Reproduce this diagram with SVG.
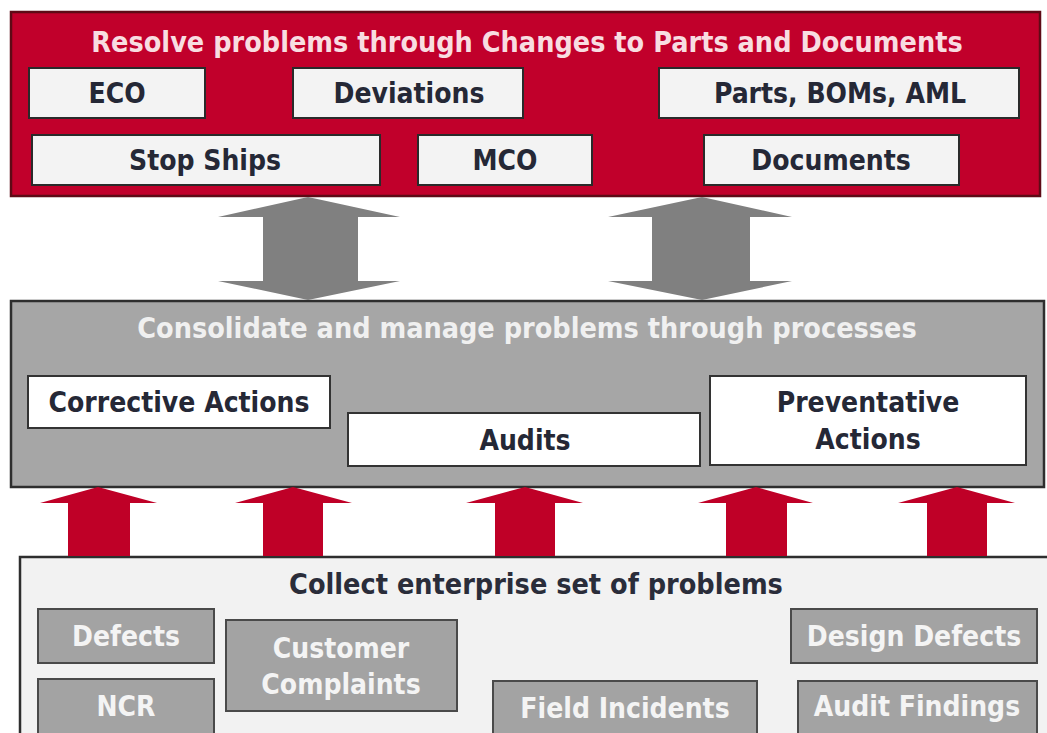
<svg xmlns="http://www.w3.org/2000/svg" width="1047" height="733" viewBox="0 0 1047 733">
  <style>
    text { font-family: "DejaVu Sans Condensed", "DejaVu Sans", "Liberation Sans", sans-serif; font-stretch: condensed; font-weight: bold; font-size: 28px; text-anchor: middle; }
    .tier-red { fill: #c1002b; stroke: #5e0a16; stroke-width: 2.5; }
    .tier-grey { fill: #a6a6a6; stroke: #2e2e2e; stroke-width: 2.5; }
    .tier-light { fill: #f2f2f2; stroke: #2e2e2e; stroke-width: 2.5; }
    .box-light { fill: #f3f3f3; stroke: #2a2a2a; stroke-width: 2; }
    .box-white { fill: #ffffff; stroke: #333333; stroke-width: 2; }
    .box-grey { fill: #a3a3a3; stroke: #4a4a4a; stroke-width: 2; }
    .dark { fill: #252836; }
    .pale { fill: #f4f4f4; }
    .title-red { fill: #f8dde1; font-size: 28.5px; }
    .title-grey { fill: #f0f0f0; font-size: 28.5px; }
    .title-light { fill: #2a2d3a; font-size: 28.5px; }
    .arrow-grey { fill: #808080; }
    .arrow-red { fill: #bf0027; }
  </style>

  <!-- Tier 1: changes to parts and documents -->
  <g id="tier-resolve">
    <rect class="tier-red" x="11" y="12" width="1029" height="184"/>
    <text class="title-red" x="527" y="52">Resolve problems through Changes to Parts and Documents</text>
  </g>
  <g id="node-eco">
    <rect class="box-light" x="29" y="68" width="176" height="50"/>
    <text class="dark" x="117" y="103">ECO</text>
  </g>
  <g id="node-deviations">
    <rect class="box-light" x="293" y="68" width="230" height="50"/>
    <text class="dark" x="409" y="103">Deviations</text>
  </g>
  <g id="node-parts">
    <rect class="box-light" x="659" y="68" width="360" height="50"/>
    <text class="dark" x="840" y="103">Parts, BOMs, AML</text>
  </g>
  <g id="node-stopships">
    <rect class="box-light" x="32" y="135" width="348" height="50"/>
    <text class="dark" x="205" y="170">Stop Ships</text>
  </g>
  <g id="node-mco">
    <rect class="box-light" x="418" y="135" width="174" height="50"/>
    <text class="dark" x="505" y="170">MCO</text>
  </g>
  <g id="node-documents">
    <rect class="box-light" x="704" y="135" width="255" height="50"/>
    <text class="dark" x="831" y="170">Documents</text>
  </g>

  <!-- Tier 2: consolidate and manage -->
  <g id="tier-consolidate">
    <rect class="tier-grey" x="11" y="301" width="1033" height="186"/>
    <text class="title-grey" x="527" y="338">Consolidate and manage problems through processes</text>
  </g>
  <g id="node-corrective">
    <rect class="box-white" x="28" y="376" width="302" height="52"/>
    <text class="dark" x="179" y="412">Corrective Actions</text>
  </g>
  <g id="node-audits">
    <rect class="box-white" x="348" y="413" width="352" height="53"/>
    <text class="dark" x="525" y="450">Audits</text>
  </g>
  <g id="node-preventative">
    <rect class="box-white" x="710" y="376" width="316" height="89"/>
    <text class="dark" x="868" y="412">Preventative</text>
    <text class="dark" x="868" y="449">Actions</text>
  </g>

  <!-- Tier 3: collect problems -->
  <g id="tier-collect">
    <rect class="tier-light" x="20" y="557" width="1040" height="190"/>
    <text class="title-light" x="536" y="594">Collect enterprise set of problems</text>
  </g>
  <g id="node-defects">
    <rect class="box-grey" x="38" y="609" width="176" height="54"/>
    <text class="pale" x="126" y="646">Defects</text>
  </g>
  <g id="node-ncr">
    <rect class="box-grey" x="38" y="679" width="176" height="64"/>
    <text class="pale" x="126" y="716">NCR</text>
  </g>
  <g id="node-complaints">
    <rect class="box-grey" x="226" y="620" width="231" height="91"/>
    <text class="pale" x="341" y="658">Customer</text>
    <text class="pale" x="341" y="694">Complaints</text>
  </g>
  <g id="node-field">
    <rect class="box-grey" x="493" y="681" width="264" height="62"/>
    <text class="pale" x="625" y="718">Field Incidents</text>
  </g>
  <g id="node-design">
    <rect class="box-grey" x="791" y="609" width="246" height="54"/>
    <text class="pale" x="914" y="646">Design Defects</text>
  </g>
  <g id="node-findings">
    <rect class="box-grey" x="798" y="681" width="239" height="62"/>
    <text class="pale" x="917" y="716">Audit Findings</text>
  </g>

  <!-- Connectors: two-way block arrows and upward feed arrows -->
  <g id="connectors">
    <polygon class="arrow-grey" points="308,197 400,217 358,217 358,281 400,281 308,300 218,281 263,281 263,217 218,217"/>
    <polygon class="arrow-grey" points="702,197 792,217 750,217 750,281 792,281 702,300 608,281 652,281 652,217 608,217"/>
    <polygon class="arrow-red" points="98,487 157,503 130,503 130,556 68,556 68,503 40,503"/>
    <polygon class="arrow-red" points="293,487 352,503 323,503 323,556 263,556 263,503 235,503"/>
    <polygon class="arrow-red" points="525,487 583,503 555,503 555,556 495,556 495,503 466,503"/>
    <polygon class="arrow-red" points="756,487 813,503 787,503 787,556 726,556 726,503 698,503"/>
    <polygon class="arrow-red" points="957,487 1015,503 987,503 987,556 927,556 927,503 898,503"/>
  </g>
</svg>
